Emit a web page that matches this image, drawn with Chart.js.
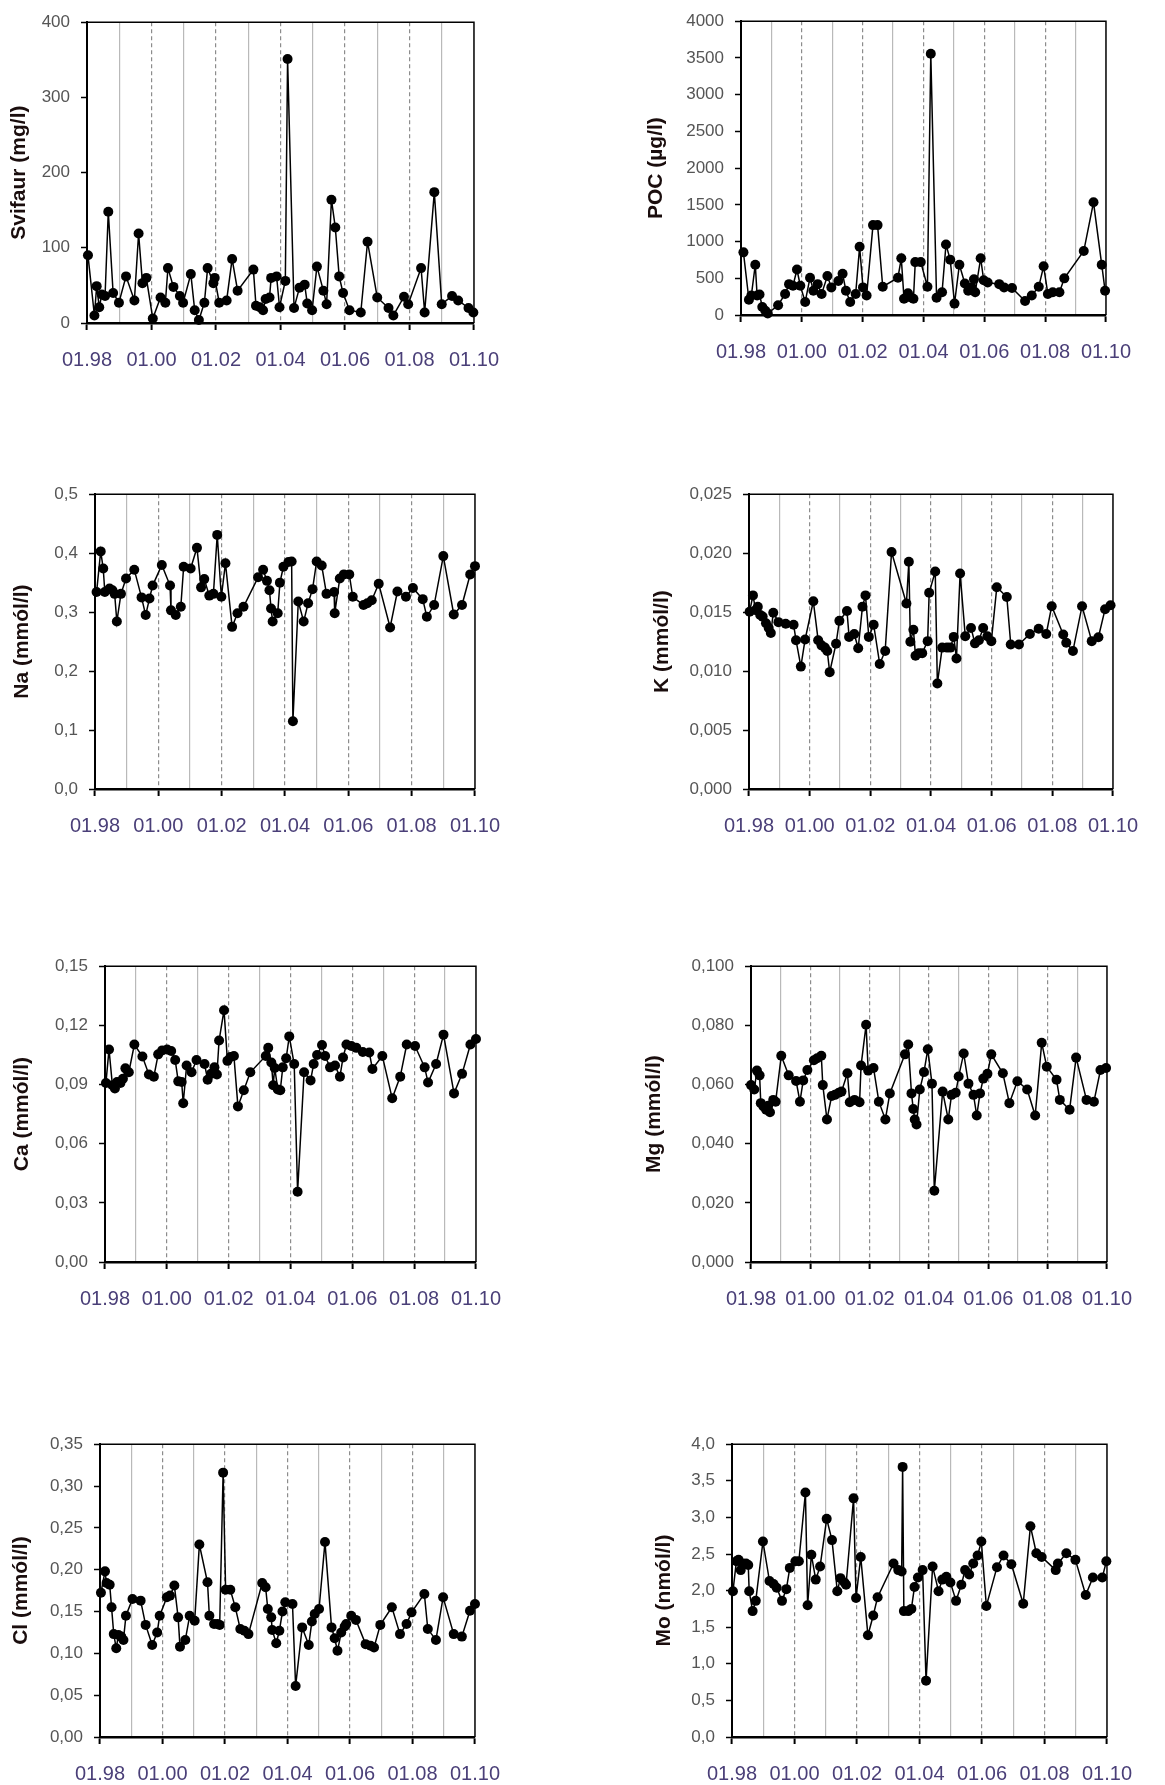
<!DOCTYPE html>
<html>
<head>
<meta charset="utf-8">
<script src="https://cdn.jsdelivr.net/npm/chart.js@4.4.0/dist/chart.umd.min.js"></script>
<style>
  html, body { margin: 0; padding: 0; background: #fff; overflow: hidden; }
  body { width: 1165px; height: 1785px; position: relative; }
  canvas { position: absolute; }
</style>
</head>
<body>
<canvas id="c-svifaur"></canvas>
<canvas id="c-poc"></canvas>
<canvas id="c-na"></canvas>
<canvas id="c-k"></canvas>
<canvas id="c-ca"></canvas>
<canvas id="c-mg"></canvas>
<canvas id="c-cl"></canvas>
<canvas id="c-mo"></canvas>
<script>
// x axis: one tick per year, labels every second year
const xTickYears = [1998, 1999, 2000, 2001, 2002, 2003, 2004, 2005, 2006, 2007, 2008, 2009, 2010];
const xLabelYears = [1998, 2000, 2002, 2004, 2006, 2008, 2010];
const xTickLabels = ["01.98", "01.00", "01.02", "01.04", "01.06", "01.08", "01.10"];

// Svifaur (mg/l)
const svifaurDates = [1998.03,1998.23,1998.30,1998.38,1998.46,1998.56,1998.66,1998.81,1998.99,
  1999.21,1999.47,1999.60,1999.72,1999.84,
  2000.04,2000.28,2000.43,2000.51,2000.68,2000.88,2000.98,
  2001.22,2001.34,2001.47,2001.64,2001.74,2001.92,2001.96,
  2002.10,2002.33,2002.50,2002.67,
  2003.16,2003.24,2003.36,2003.46,2003.54,2003.66,2003.71,2003.88,2003.97,
  2004.15,2004.22,2004.42,2004.59,2004.75,2004.83,2004.98,
  2005.13,2005.33,2005.43,2005.58,2005.70,2005.82,2005.94,
  2006.14,2006.49,2006.70,2007.00,
  2007.35,2007.50,2007.83,2007.96,
  2008.36,2008.47,2008.77,
  2009.00,2009.32,2009.51,2009.83,2009.98];
const svifaurValues = [90,10,49,21,38,36,148,40,27,
  62,30,119,53,60,
  6,34,27,73,48,36,27,
  65,17,4,27,73,53,60,
  27,30,85,43,
  71,23,21,17,32,34,60,62,21,
  56,351,20,47,51,26,17,
  75,43,25,164,127,62,40,
  17,14,108,34,
  20,10,35,25,
  73,14,174,
  25,36,30,20,14];
const svifaurTicks = [0, 100, 200, 300, 400];

// POC (µg/l)
const pocDates = [1998.08,1998.26,1998.34,1998.47,1998.53,1998.61,1998.70,1998.80,1998.88,
  1999.22,1999.45,1999.58,1999.71,1999.84,1999.95,
  2000.11,2000.27,2000.38,2000.52,2000.65,2000.84,2000.97,
  2001.20,2001.34,2001.45,2001.59,2001.77,2001.90,
  2002.01,2002.13,2002.34,2002.49,2002.66,
  2003.16,2003.27,2003.36,2003.49,2003.56,2003.67,2003.73,2003.91,
  2004.13,2004.24,2004.43,2004.61,2004.74,2004.88,
  2005.02,2005.18,2005.36,2005.47,2005.58,2005.66,2005.70,2005.88,2005.98,
  2006.11,2006.49,2006.65,2006.91,
  2007.34,2007.56,2007.79,2007.95,
  2008.09,2008.25,2008.47,2008.63,
  2009.27,2009.59,2009.86,2009.97];
const pocValues = [853,208,265,685,265,278,110,57,22,
  133,287,420,398,619,398,
  177,508,331,420,287,530,376,
  464,561,331,177,287,928,
  376,265,1224,1224,385,
  508,773,221,296,243,221,720,720,
  385,3558,234,309,959,751,
  155,685,429,331,376,486,309,773,473,
  442,420,376,367,
  190,265,385,663,
  287,309,309,499,
  871,1534,685,331];
const pocTicks = [0, 500, 1000, 1500, 2000, 2500, 3000, 3500, 4000];

// Na (mmól/l)
const naDates = [1998.05,1998.18,1998.26,1998.31,1998.46,1998.55,1998.62,1998.69,1998.82,1998.98,
  1999.24,1999.47,1999.60,1999.72,1999.82,
  2000.11,2000.37,2000.40,2000.55,2000.71,2000.80,
  2001.02,2001.22,2001.35,2001.45,2001.61,2001.74,2001.86,2001.99,
  2002.12,2002.33,2002.50,2002.69,
  2003.15,2003.31,2003.43,2003.51,2003.56,2003.61,2003.77,2003.84,2003.95,
  2004.11,2004.21,2004.25,2004.42,2004.59,2004.73,2004.87,
  2005.00,2005.16,2005.31,2005.55,2005.57,2005.73,2005.86,
  2006.03,2006.14,2006.48,2006.60,2006.74,2006.96,
  2007.32,2007.55,2007.82,
  2008.04,2008.35,2008.48,2008.71,
  2009.00,2009.33,2009.59,2009.85,2010.00];
const naValues = [0.334,0.403,0.374,0.334,0.34,0.337,0.331,0.284,0.331,0.357,
  0.372,0.325,0.295,0.323,0.345,
  0.38,0.345,0.303,0.295,0.309,0.377,
  0.374,0.409,0.342,0.356,0.328,0.331,0.431,0.326,
  0.383,0.275,0.298,0.309,
  0.359,0.372,0.353,0.337,0.306,0.284,0.298,0.35,0.377,
  0.385,0.386,0.115,0.318,0.284,0.315,0.339,
  0.386,0.379,0.331,0.334,0.298,0.357,0.364,
  0.364,0.326,0.312,0.315,0.32,0.348,
  0.274,0.335,0.326,
  0.341,0.322,0.292,0.312,
  0.395,0.296,0.312,0.364,0.378];
const naTicks = [0, 0.1, 0.2, 0.3, 0.4, 0.5];

// K (mmól/l)
const kDates = [1998.02,1998.13,1998.22,1998.29,1998.37,1998.45,1998.56,1998.65,1998.72,1998.80,1998.97,
  1999.21,1999.47,1999.55,1999.71,1999.85,
  2000.12,2000.28,2000.39,2000.50,2000.58,2000.66,2000.87,2000.98,
  2001.23,2001.30,2001.47,2001.60,2001.74,2001.84,2001.95,
  2002.11,2002.31,2002.49,2002.70,
  2003.19,2003.27,2003.32,2003.42,2003.49,2003.60,2003.71,2003.89,2003.94,
  2004.14,2004.21,2004.37,2004.53,2004.64,2004.75,2004.84,2004.96,
  2005.13,2005.32,2005.45,2005.58,2005.72,2005.86,2005.99,
  2006.17,2006.50,2006.63,2006.90,
  2007.26,2007.55,2007.80,2007.98,
  2008.36,2008.46,2008.68,2008.98,
  2009.30,2009.52,2009.74,2009.92];
const kValues = [0.01503,0.01642,0.01517,0.01545,0.01476,0.01462,0.01406,0.01365,0.01323,0.01495,0.01415,
  0.01401,0.01393,0.01262,0.01038,0.01268,
  0.01592,0.01262,0.01218,0.01199,0.01171,0.00991,0.01232,0.01426,
  0.01509,0.0129,0.01315,0.01193,0.01545,0.01642,0.0129,
  0.01393,0.0106,0.01171,0.0201,
  0.01573,0.01927,0.01249,0.01351,0.0113,0.01152,0.01152,0.01254,0.01664,
  0.01844,0.00894,0.01199,0.01199,0.01199,0.0129,0.01107,0.01827,
  0.01296,0.01365,0.01235,0.01262,0.01365,0.01296,0.01254,
  0.01711,0.01628,0.01226,0.01226,
  0.01315,0.01359,0.01315,0.0155,
  0.0131,0.0124,0.01171,0.0155,
  0.01254,0.01287,0.01525,0.01559];
const kTicks = [0, 0.005, 0.01, 0.015, 0.02, 0.025];

// Ca (mmól/l)
const caDates = [1998.03,1998.13,1998.24,1998.32,1998.39,1998.50,1998.58,1998.66,1998.77,1998.95,
  1999.21,1999.42,1999.58,1999.72,1999.85,
  2000.01,2000.14,2000.27,2000.37,2000.48,2000.53,2000.64,2000.80,2000.96,
  2001.22,2001.32,2001.43,2001.54,2001.62,2001.69,2001.85,2001.96,
  2002.06,2002.17,2002.30,2002.49,2002.70,
  2003.20,2003.28,2003.38,2003.44,2003.49,2003.59,2003.67,2003.75,2003.86,2003.96,
  2004.12,2004.23,2004.44,2004.65,2004.75,2004.86,
  2005.02,2005.12,2005.28,2005.44,2005.60,2005.70,2005.81,2005.97,
  2006.13,2006.34,2006.55,2006.65,2006.97,
  2007.29,2007.55,2007.76,
  2008.03,2008.34,2008.45,2008.71,2008.95,
  2009.29,2009.55,2009.82,2010.00];
const caValues = [0.0908,0.1078,0.0896,0.088,0.0913,0.0908,0.0929,0.0982,0.0962,0.1103,
  0.1042,0.0951,0.094,0.1053,0.1073,
  0.1078,0.107,0.1024,0.0916,0.0913,0.0805,0.0996,0.0962,0.1024,
  0.1004,0.0924,0.0954,0.0987,0.0951,0.1123,0.1277,0.102,
  0.104,0.1045,0.0789,0.0871,0.0962,
  0.1045,0.1086,0.1012,0.0896,0.0984,0.0875,0.0871,0.0987,0.1033,0.1144,
  0.1004,0.0356,0.0962,0.0921,0.1004,0.105,
  0.11,0.1045,0.0987,0.0996,0.094,0.1037,0.1103,0.1095,
  0.1086,0.1065,0.1062,0.0979,0.1045,
  0.083,0.094,0.1103,
  0.1095,0.0987,0.091,0.1004,0.1153,
  0.0855,0.0954,0.1103,0.1131];
const caTicks = [0, 0.03, 0.06, 0.09, 0.12, 0.15];

// Mg (mmól/l)
const mgDates = [1998.00,1998.11,1998.20,1998.29,1998.33,1998.42,1998.51,1998.58,1998.64,1998.75,1998.83,
  1999.02,1999.27,1999.52,1999.65,1999.76,1999.90,
  2000.12,2000.23,2000.37,2000.42,2000.56,2000.72,2000.83,2000.96,
  2001.05,2001.25,2001.33,2001.49,2001.66,2001.71,2001.88,2001.95,
  2002.13,2002.31,2002.53,2002.68,
  2003.19,2003.30,2003.41,2003.47,2003.52,2003.58,2003.69,2003.83,2003.96,
  2004.10,2004.18,2004.46,2004.65,2004.76,2004.90,
  2005.00,2005.17,2005.33,2005.50,2005.61,2005.72,2005.83,2005.97,
  2006.10,2006.49,2006.71,2006.98,
  2007.31,2007.58,2007.80,2007.97,
  2008.30,2008.41,2008.74,2008.96,
  2009.31,2009.56,2009.78,2009.97];
const mgValues = [0.0598,0.0583,0.0647,0.0631,0.0537,0.0526,0.0515,0.0528,0.0506,0.0548,0.0542,
  0.0697,0.0631,0.0612,0.0542,0.0614,0.0649,
  0.0682,0.0689,0.0697,0.0598,0.0482,0.0561,0.0565,0.0572,
  0.0576,0.0638,0.054,0.0548,0.054,0.0664,0.0802,0.0647,
  0.0656,0.0542,0.0482,0.057,
  0.0702,0.0735,0.057,0.0517,0.0482,0.0465,0.0583,0.0642,0.0719,
  0.0603,0.0241,0.0576,0.0482,0.0565,0.0572,
  0.0627,0.0705,0.0603,0.0565,0.0495,0.057,0.062,0.0636,
  0.0702,0.0638,0.0537,0.0611,
  0.0583,0.0495,0.0741,0.066,
  0.0616,0.0548,0.0515,0.0691,
  0.0548,0.0542,0.0649,0.0656];
const mgTicks = [0, 0.02, 0.04, 0.06, 0.08, 0.1];

// Cl (mmól/l)
const clDates = [1998.03,1998.16,1998.21,1998.31,1998.37,1998.44,1998.52,1998.59,1998.68,1998.75,1998.83,
  1999.04,1999.30,1999.46,1999.67,1999.83,1999.91,
  2000.14,2000.24,2000.38,2000.50,2000.56,2000.73,2000.87,
  2001.03,2001.18,2001.44,2001.50,2001.65,2001.76,2001.83,2001.94,
  2002.02,2002.17,2002.33,2002.49,2002.62,2002.75,
  2003.19,2003.30,2003.37,2003.48,2003.51,2003.64,2003.74,2003.84,2003.93,
  2004.16,2004.26,2004.47,2004.68,2004.78,2004.87,
  2005.01,2005.20,2005.41,2005.51,2005.60,2005.72,2005.83,2005.88,
  2006.04,2006.19,2006.50,2006.66,2006.77,2006.97,
  2007.34,2007.60,2007.81,2007.97,
  2008.38,2008.49,2008.75,2008.98,
  2009.32,2009.58,2009.84,2010.00];
const clValues = [0.1725,0.198,0.184,0.182,0.155,0.123,0.106,0.122,0.12,0.116,0.145,
  0.165,0.163,0.134,0.11,0.125,0.145,
  0.167,0.169,0.181,0.143,0.108,0.116,0.145,
  0.139,0.23,0.185,0.145,0.135,0.135,0.134,0.316,
  0.176,0.176,0.155,0.129,0.127,0.123,
  0.184,0.179,0.153,0.143,0.128,0.112,0.127,0.15,0.161,
  0.159,0.061,0.131,0.11,0.138,0.147,
  0.153,0.233,0.131,0.118,0.103,0.125,0.132,0.135,
  0.145,0.14,0.111,0.109,0.107,0.134,
  0.155,0.123,0.135,0.149,
  0.171,0.129,0.116,0.167,
  0.123,0.12,0.151,0.159];
const clTicks = [0, 0.05, 0.1, 0.15, 0.2, 0.25, 0.3, 0.35];

// Mo (nmól/l)
const moDates = [1998.03,1998.14,1998.21,1998.28,1998.34,1998.45,1998.52,1998.55,1998.66,1998.76,1998.99,
  1999.20,1999.33,1999.43,1999.60,1999.74,1999.85,
  2000.03,2000.14,2000.35,2000.42,2000.54,2000.68,2000.82,
  2001.03,2001.20,2001.37,2001.47,2001.60,2001.65,2001.89,2001.97,
  2002.12,2002.35,2002.52,2002.66,
  2003.17,2003.32,2003.43,2003.46,2003.50,2003.64,2003.74,2003.84,2003.95,
  2004.10,2004.21,2004.42,2004.61,2004.73,2004.86,2004.99,
  2005.17,2005.34,2005.46,2005.59,2005.72,2005.86,2005.98,
  2006.14,2006.48,2006.69,2006.94,
  2007.32,2007.55,2007.74,2007.91,
  2008.36,2008.43,2008.70,2008.99,
  2009.32,2009.55,2009.85,2009.98];
const moValues = [1.99,2.40,2.42,2.28,2.37,2.37,2.35,1.99,1.72,1.86,2.67,
  2.13,2.09,2.04,1.86,2.02,2.31,
  2.40,2.40,3.34,1.80,2.49,2.15,2.33,
  2.98,2.69,1.99,2.17,2.11,2.08,3.26,1.90,
  2.46,1.39,1.66,1.91,
  2.37,2.28,2.26,3.69,1.72,1.72,1.75,2.05,2.18,
  2.28,0.77,2.33,1.99,2.15,2.19,2.11,
  1.86,2.08,2.28,2.22,2.37,2.48,2.67,
  1.79,2.32,2.48,2.36,
  1.82,2.88,2.51,2.46,
  2.28,2.37,2.51,2.42,
  1.94,2.18,2.18,2.40];
const moTicks = [0, 0.5, 1, 1.5, 2, 2.5, 3, 3.5, 4];

const FONT = "'Liberation Sans', Arial, sans-serif";

// panel placement on the page
const panels = [
  { id: "c-svifaur", title: "Svifaur (mg/l)", xs: svifaurDates, ys: svifaurValues, ticks: svifaurTicks, dec: 0,
    left: 7, top: 1, right: 482, plotTop: 16, plotLeft: 87, bottom: 323 },
  { id: "c-poc", title: "POC (µg/l)", xs: pocDates, ys: pocValues, ticks: pocTicks, dec: 0,
    left: 644, top: 0, right: 1114, plotTop: 13, plotLeft: 741, bottom: 315 },
  { id: "c-na", title: "Na (mmól/l)", xs: naDates, ys: naValues, ticks: naTicks, dec: 1,
    left: 10, top: 473, right: 483, plotTop: 488, plotLeft: 95, bottom: 789 },
  { id: "c-k", title: "K (mmól/l)", xs: kDates, ys: kValues, ticks: kTicks, dec: 3,
    left: 650, top: 473, right: 1121, plotTop: 488, plotLeft: 749, bottom: 789 },
  { id: "c-ca", title: "Ca (mmól/l)", xs: caDates, ys: caValues, ticks: caTicks, dec: 2,
    left: 10, top: 945, right: 484, plotTop: 960, plotLeft: 105, bottom: 1262 },
  { id: "c-mg", title: "Mg (mmól/l)", xs: mgDates, ys: mgValues, ticks: mgTicks, dec: 3,
    left: 642, top: 945, right: 1115, plotTop: 960, plotLeft: 751, bottom: 1262 },
  { id: "c-cl", title: "Cl (mmól/l)", xs: clDates, ys: clValues, ticks: clTicks, dec: 2,
    left: 9, top: 1423, right: 483, plotTop: 1438, plotLeft: 100, bottom: 1737 },
  { id: "c-mo", title: "Mo (nmól/l)", xs: moDates, ys: moValues, ticks: moTicks, dec: 1,
    left: 652, top: 1423, right: 1115, plotTop: 1438, plotLeft: 732, bottom: 1737 }
];

const X_AXIS_H = 48;
const PAD_RIGHT = 35;

function fmt(v, dec) {
  return Number(v).toFixed(dec).replace(".", ",");
}

function xLabel(v) {
  const i = xLabelYears.indexOf(Math.round(v));
  return i >= 0 ? xTickLabels[i] : "";
}

function tickYear(c) {
  return c && c.tick ? Math.round(c.tick.value) : null;
}

// top and right edge of the plot box
const framePlugin = {
  id: "frame",
  beforeDatasetsDraw(chart) {
    const { ctx, chartArea: a } = chart;
    ctx.save();
    ctx.strokeStyle = "#000";
    ctx.lineWidth = 1.5;
    ctx.beginPath();
    ctx.moveTo(a.left, a.top);
    ctx.lineTo(a.right, a.top);
    ctx.lineTo(a.right, a.bottom);
    ctx.stroke();
    ctx.restore();
  }
};

panels.forEach((p) => {
  const cv = document.getElementById(p.id);
  const w = p.right + PAD_RIGHT - p.left;
  const h = p.bottom + X_AXIS_H - p.top;
  cv.width = w;
  cv.height = h;
  cv.style.left = p.left + "px";
  cv.style.top = p.top + "px";
  const yW = p.plotLeft - p.left;

  new Chart(cv, {
    type: "line",
    data: {
      datasets: [{
        data: p.xs.map((x, i) => ({ x: x, y: p.ys[i] })),
        borderColor: "#000",
        borderWidth: 1.5,
        pointRadius: 5,
        pointBackgroundColor: "#000",
        pointBorderWidth: 0,
        tension: 0,
        clip: false
      }]
    },
    options: {
      responsive: false,
      animation: false,
      events: [],
      layout: { padding: { top: p.plotTop - p.top, right: PAD_RIGHT, left: 0, bottom: 0 } },
      plugins: { legend: { display: false }, tooltip: { enabled: false } },
      scales: {
        x: {
          type: "linear",
          min: 1998,
          max: 2010,
          afterBuildTicks: (s) => { s.ticks = xTickYears.map((v) => ({ value: v })); },
          afterFit: (s) => { s.height = X_AXIS_H; },
          ticks: {
            autoSkip: false,
            maxRotation: 0,
            padding: 18,
            color: "#4a3f78",
            font: { family: FONT, size: 20 },
            callback: (v) => xLabel(v)
          },
          grid: {
            drawOnChartArea: true,
            lineWidth: 1.2,
            color: (c) => {
              const y = tickYear(c);
              if (y === 1998 || y === 2010) return "rgba(0,0,0,0)";
              return y % 2 === 0 ? "#8c8c8c" : "#b9b9b9";
            },
            tickLength: 7,
            tickWidth: 2,
            tickColor: (c) => (tickYear(c) % 2 === 0 ? "#000" : "rgba(0,0,0,0)"),
            tickBorderDash: []
          },
          border: {
            color: "#000",
            width: 2.5,
            dash: (c) => {
              const y = tickYear(c);
              return y !== null && y % 2 === 0 ? [4, 3] : [];
            }
          }
        },
        y: {
          min: 0,
          max: p.ticks[p.ticks.length - 1],
          afterBuildTicks: (s) => { s.ticks = p.ticks.map((v) => ({ value: v })); },
          afterFit: (s) => { s.width = yW; },
          ticks: {
            padding: 11,
            color: "#555",
            font: { family: FONT, size: 17 },
            callback: (v) => fmt(v, p.dec)
          },
          grid: {
            drawOnChartArea: false,
            drawTicks: true,
            tickLength: 6,
            tickWidth: 1.5,
            tickColor: "#000"
          },
          border: { color: "#000", width: 2 },
          title: {
            display: true,
            text: p.title,
            color: "#1a0d0d",
            padding: 0,
            font: { family: FONT, size: 21, weight: "bold" }
          }
        }
      }
    },
    plugins: [framePlugin]
  });
});
</script>
</body>
</html>
